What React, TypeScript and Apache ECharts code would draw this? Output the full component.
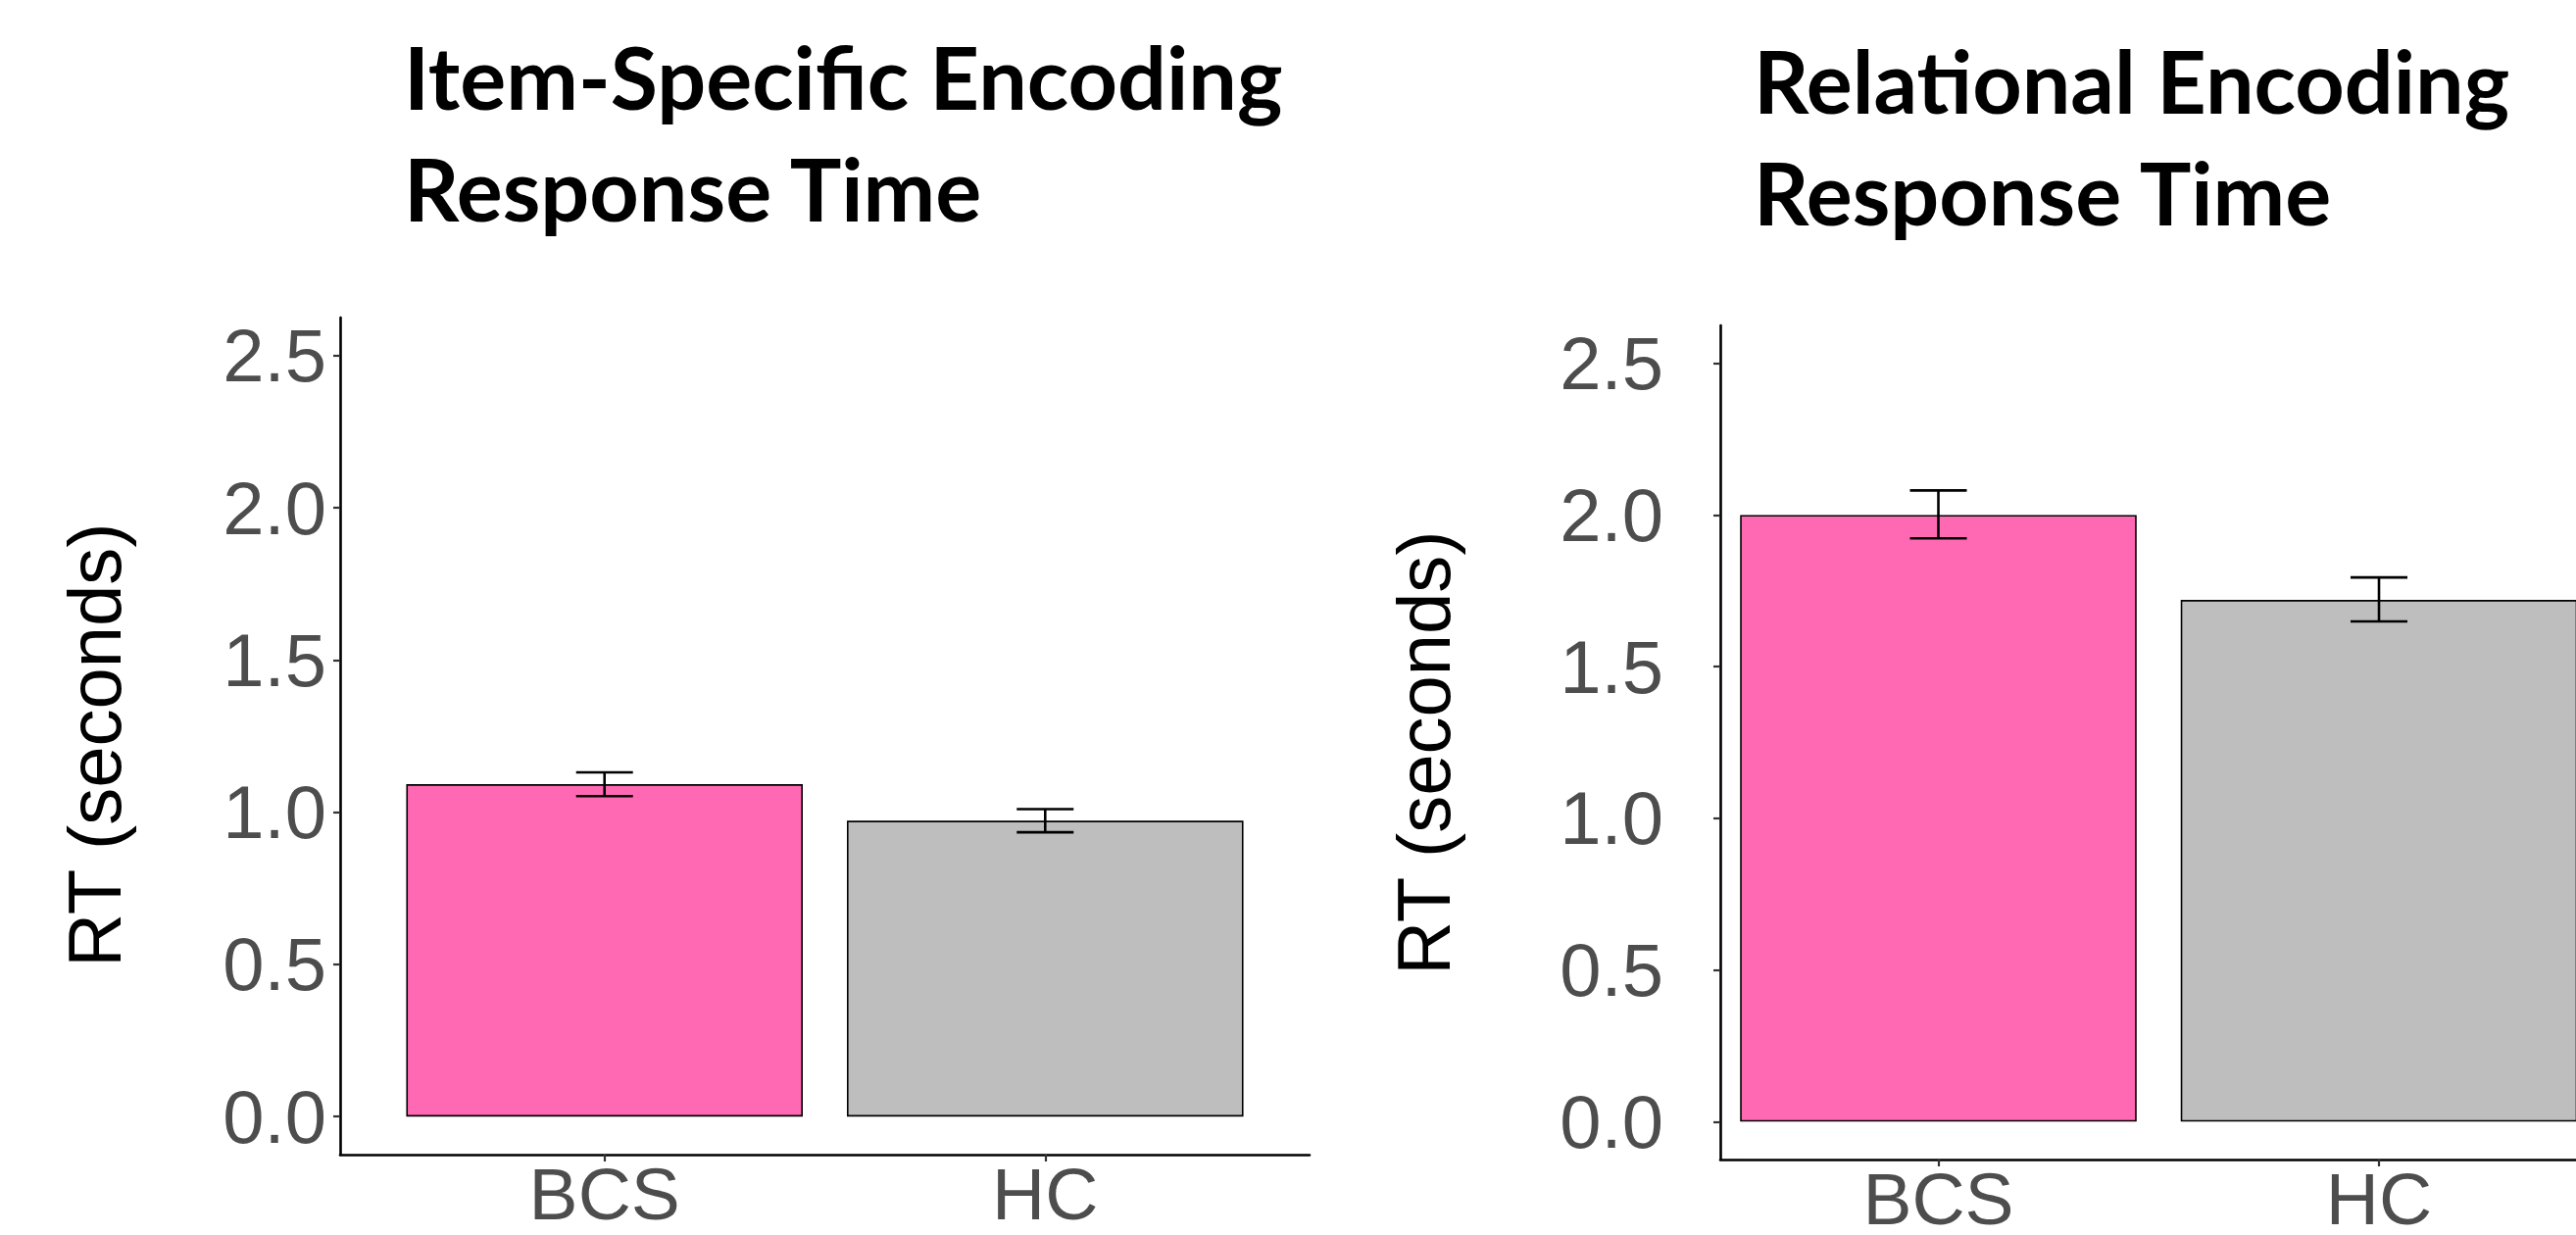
import React, { useEffect, useRef } from "react";
import * as echarts from "echarts";

// ---- data ----
const CATEGORIES = ["BCS", "HC"];
const ITEM_MEANS = [1.092, 0.972];
const ITEM_LOW = [1.053, 0.934];
const ITEM_HIGH = [1.131, 1.01];
const REL_MEANS = [2.0, 1.72];
const REL_LOW = [1.923, 1.649];
const REL_HIGH = [2.081, 1.794];
const Y_TICKS = [0, 0.5, 1, 1.5, 2, 2.5];
const X_POS = [1, 2];
const BAR_COLORS = ["#FF69B4", "#BEBEBE"];
const TITLES = [
  ["Item-Specific Encoding", "Response Time"],
  ["Relational Encoding", "Response Time"],
];
const Y_NAME = "RT (seconds)";

const SPACING = 449.5; // px per category unit
const BAR_W = SPACING * 0.9;
const CAP_HALF = 29;
const TICK_FONT = "Liberation Sans, Arial, Helvetica, sans-serif";
const TITLE_FONT = "Lato, 'Open Sans', sans-serif";

function makeAxes(gridIndex: number, xmin: number, xmax: number, yLabelMargin: number) {
  const xAxis = {
    type: "value",
    gridIndex,
    min: xmin,
    max: xmax,
    splitLine: { show: false },
    axisLine: { show: true, onZero: false, lineStyle: { color: "#000", width: 2.6 } },
    axisTick: { show: true, customValues: X_POS, length: 7, lineStyle: { color: "#333", width: 2.2 } },
    axisLabel: {
      show: true,
      customValues: X_POS,
      formatter: (v: number) => CATEGORIES[Math.round(v) - 1] ?? "",
      color: "#4D4D4D",
      fontFamily: TICK_FONT,
      fontSize: 75,
      margin: 2,
    },
  };
  const yAxis = {
    type: "value",
    gridIndex,
    min: -0.125,
    max: 2.625,
    splitLine: { show: false },
    axisLine: { show: true, onZero: false, lineStyle: { color: "#000", width: 2.6 } },
    axisTick: { show: true, customValues: Y_TICKS, length: 7, lineStyle: { color: "#333", width: 2.2 } },
    axisLabel: {
      show: true,
      customValues: Y_TICKS,
      formatter: (v: number) => v.toFixed(1),
      color: "#4D4D4D",
      fontFamily: TICK_FONT,
      fontSize: 76,
      margin: yLabelMargin,
    },
  };
  return { xAxis, yAxis };
}

function barSeries(idx: number, means: number[]) {
  return {
    type: "bar",
    xAxisIndex: idx,
    yAxisIndex: idx,
    barWidth: BAR_W,
    clip: true,
    z: 2,
    data: means.map((m, i) => ({
      value: [X_POS[i], m],
      itemStyle: { color: BAR_COLORS[i], borderColor: "#000", borderWidth: 1.6 },
    })),
  };
}

function errSeries(idx: number, lo: number[], hi: number[]) {
  return {
    type: "custom",
    xAxisIndex: idx,
    yAxisIndex: idx,
    z: 5,
    encode: { x: 0, y: [1, 2] },
    data: lo.map((l, i) => [X_POS[i], l, hi[i]]),
    renderItem: (params: any, api: any) => {
      const x = api.value(0);
      const pLo = api.coord([x, api.value(1)]);
      const pHi = api.coord([x, api.value(2)]);
      const style = { stroke: "#000", lineWidth: 2.6 };
      return {
        type: "group",
        children: [
          { type: "line", shape: { x1: pLo[0], y1: pLo[1], x2: pHi[0], y2: pHi[1] }, style },
          { type: "line", shape: { x1: pHi[0] - CAP_HALF, y1: pHi[1], x2: pHi[0] + CAP_HALF, y2: pHi[1] }, style },
          { type: "line", shape: { x1: pLo[0] - CAP_HALF, y1: pLo[1], x2: pLo[0] + CAP_HALF, y2: pLo[1] }, style },
        ],
      };
    },
  };
}

export default function App() {
  const ref = useRef<HTMLDivElement>(null);
  useEffect(() => {
    document.body.style.margin = "0";
    if (!ref.current) return;
    const chart = echarts.init(ref.current, undefined, { renderer: "svg" });
    const a1 = makeAxes(0, 0.4, 2.6, 14);
    const a2 = makeAxes(1, 0.505, 0.505 + (2628 - 1755) / SPACING, 58);
    const titleStyle = (text: string) => ({
      text,
      fontFamily: TITLE_FONT,
      fontWeight: 700,
      fontSize: 88,
      fill: "#000",
      align: "left",
      verticalAlign: "middle",
    });
    const option = {
      animation: false,
      backgroundColor: "#fff",
      grid: [
        { left: 347, top: 324, width: 989, height: 854 },
        { left: 1755, top: 332, right: 0, height: 854 },
      ],
      xAxis: [a1.xAxis, a2.xAxis],
      yAxis: [a1.yAxis, a2.yAxis],
      series: [
        barSeries(0, ITEM_MEANS),
        errSeries(0, ITEM_LOW, ITEM_HIGH),
        barSeries(1, REL_MEANS),
        errSeries(1, REL_LOW, REL_HIGH),
      ],
      graphic: [
        { type: "text", x: 412, y: 78, style: titleStyle(TITLES[0][0]) },
        { type: "text", x: 412, y: 192, style: titleStyle(TITLES[0][1]) },
        { type: "text", x: 1789, y: 82, style: titleStyle(TITLES[1][0]) },
        { type: "text", x: 1789, y: 196, style: titleStyle(TITLES[1][1]) },
        {
          type: "text",
          x: 96,
          y: 760,
          rotation: Math.PI / 2,
          style: { text: Y_NAME, fontFamily: TICK_FONT, fontSize: 76, fill: "#000", align: "center", verticalAlign: "middle" },
        },
        {
          type: "text",
          x: 1452,
          y: 768,
          rotation: Math.PI / 2,
          style: { text: Y_NAME, fontFamily: TICK_FONT, fontSize: 76, fill: "#000", align: "center", verticalAlign: "middle" },
        },
      ],
    };
    chart.setOption(option as any);
    return () => chart.dispose();
  }, []);
  return (
    <div style={{ width: 2628, height: 1260, overflow: "hidden" }}>
      <div ref={ref} style={{ width: 2628, height: 1260 }} />
    </div>
  );
}
